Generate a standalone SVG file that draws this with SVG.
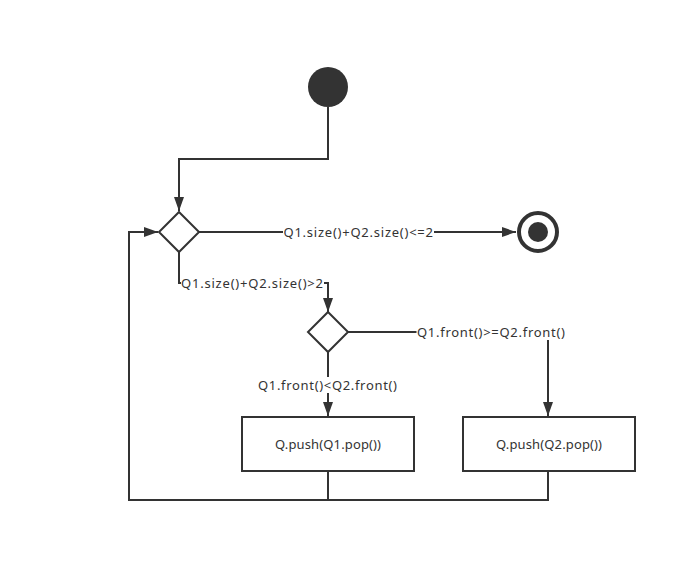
<svg xmlns="http://www.w3.org/2000/svg" width="697" height="563" viewBox="0 0 697 563">
  <style>
    .edge { fill: none; stroke: #333333; stroke-width: 2; }
    .shape { fill: #ffffff; stroke: #333333; stroke-width: 2; }
    .lbl { font-family: "Noto Sans", "Liberation Sans", sans-serif; font-size: 13px; fill: #333333; }
    .lblbg { fill: #ffffff; }
  </style>
  <defs>
    <marker id="arrow" viewBox="0 0 14 10" refX="14" refY="5" markerWidth="14" markerHeight="10" markerUnits="userSpaceOnUse" orient="auto">
      <path d="M0,0 L14,5 L0,10 Z" fill="#333333"/>
    </marker>
  </defs>
  <rect width="697" height="563" fill="#ffffff"/>

  <g id="connectors">
    <path class="edge" d="M328,107 V159 H179 V211" marker-end="url(#arrow)"/>
    <path class="edge" d="M199,232 H516" marker-end="url(#arrow)"/>
    <path class="edge" d="M179,252 V283 H328 V312" marker-end="url(#arrow)"/>
    <path class="edge" d="M348,332 H548 V416" marker-end="url(#arrow)"/>
    <path class="edge" d="M328,352 V416" marker-end="url(#arrow)"/>
    <path class="edge" d="M328,471 V500 H129 V232 H158" marker-end="url(#arrow)"/>
    <path class="edge" d="M548,471 V500 H328"/>

    <g id="edge-labels">
      <rect class="lblbg" x="283" y="224" width="151" height="16"/>
      <text class="lbl" x="283.5" y="237" textLength="149.5" lengthAdjust="spacing">Q1.size()+Q2.size()&lt;=2</text>
      <rect class="lblbg" x="181" y="275" width="143" height="16"/>
      <text class="lbl" x="181" y="288" textLength="142" lengthAdjust="spacing">Q1.size()+Q2.size()&gt;2</text>
      <rect class="lblbg" x="416.5" y="324" width="149" height="16"/>
      <text class="lbl" x="417" y="337" textLength="148" lengthAdjust="spacing">Q1.front()&gt;=Q2.front()</text>
      <rect class="lblbg" x="257.5" y="377" width="140" height="16"/>
      <text class="lbl" x="258" y="390" textLength="139" lengthAdjust="spacing">Q1.front()&lt;Q2.front()</text>
    </g>
  </g>

  <g id="start">
    <circle cx="328" cy="87" r="20" fill="#333333"/>
  </g>

  <g id="end">
    <circle cx="538" cy="232" r="19" fill="#ffffff" stroke="#333333" stroke-width="4"/>
    <circle cx="538" cy="232" r="10" fill="#333333"/>
  </g>

  <g id="decision-size">
    <path class="shape" d="M179,212 L199,232 L179,252 L159,232 Z"/>
  </g>

  <g id="decision-front">
    <path class="shape" d="M328,312 L348,332 L328,352 L308,332 Z"/>
  </g>

  <g id="push-q1">
    <rect class="shape" x="242" y="417" width="172" height="54"/>
    <text class="lbl" x="275" y="449" textLength="106" lengthAdjust="spacing">Q.push(Q1.pop())</text>
  </g>

  <g id="push-q2">
    <rect class="shape" x="463" y="417" width="172" height="54"/>
    <text class="lbl" x="496" y="449" textLength="106" lengthAdjust="spacing">Q.push(Q2.pop())</text>
  </g>
</svg>
